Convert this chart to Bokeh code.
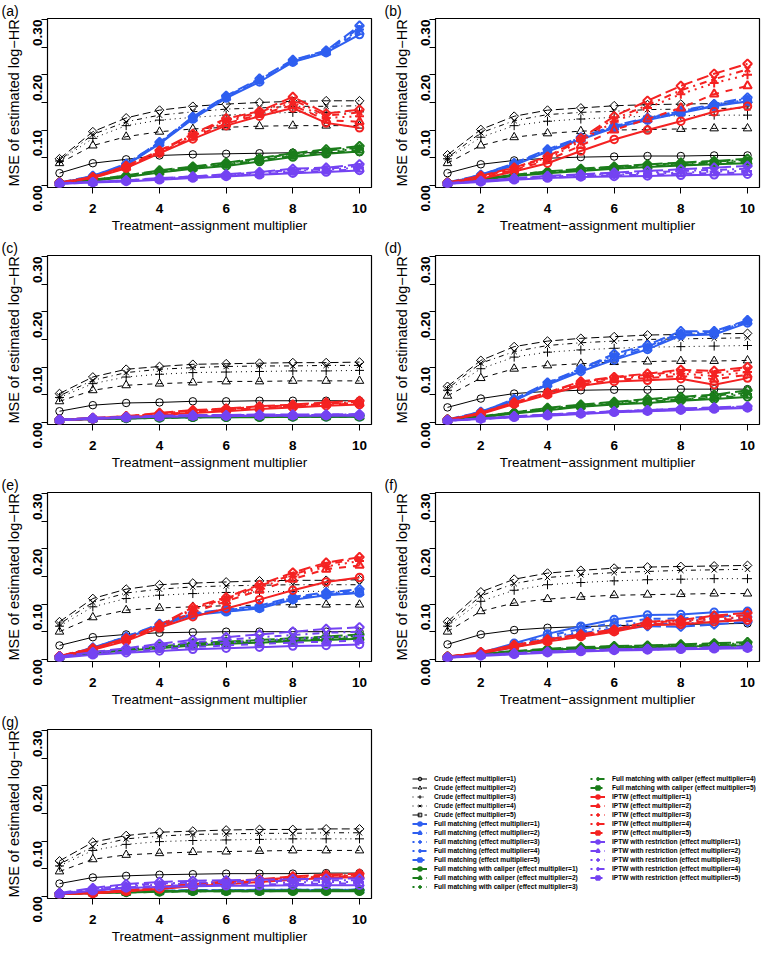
import numpy as np
from bokeh.plotting import figure
from bokeh.layouts import column, row
from bokeh.models import (Range1d, FixedTicker, PrintfTickFormatter,
                          Legend, LegendItem)
from bokeh.embed import file_html
from bokeh.resources import INLINE

# ---------------- data ----------------
X = [1, 2, 3, 4, 5, 6, 7, 8, 9, 10]
X_TICKS = [2, 4, 6, 8, 10]
Y_TICKS = [0.0, 0.1, 0.2, 0.3]
Y_MINOR = [0.05, 0.15, 0.25]
METHODS = ["Crude", "Full matching", "Full matching with caliper", "IPTW",
           "IPTW with restriction"]
MULTS = [1, 2, 3, 4, 5]
PANEL_LABELS = ["(a)", "(b)", "(c)", "(d)", "(e)", "(f)", "(g)"]

A_CRUDE = [[0.022, 0.040, 0.047, 0.054, 0.056, 0.057, 0.058, 0.059, 0.059, 0.060],
           [0.040, 0.072, 0.088, 0.097, 0.102, 0.105, 0.107, 0.108, 0.108, 0.108],
           [0.044, 0.085, 0.108, 0.118, 0.123, 0.127, 0.130, 0.132, 0.132, 0.133],
           [0.045, 0.092, 0.115, 0.127, 0.133, 0.138, 0.140, 0.143, 0.143, 0.144],
           [0.048, 0.097, 0.122, 0.136, 0.143, 0.147, 0.150, 0.152, 0.153, 0.153]]
A_FM = [[0.004, 0.015, 0.036, 0.075, 0.120, 0.158, 0.187, 0.223, 0.240, 0.273],
        [0.004, 0.016, 0.037, 0.076, 0.121, 0.159, 0.189, 0.224, 0.241, 0.278],
        [0.004, 0.016, 0.038, 0.077, 0.122, 0.160, 0.190, 0.225, 0.242, 0.282],
        [0.004, 0.017, 0.038, 0.078, 0.123, 0.161, 0.191, 0.226, 0.243, 0.285],
        [0.005, 0.017, 0.039, 0.078, 0.124, 0.162, 0.193, 0.227, 0.244, 0.289]]
A_FMC = [[0.004, 0.008, 0.015, 0.023, 0.030, 0.035, 0.043, 0.051, 0.057, 0.061],
         [0.004, 0.009, 0.016, 0.024, 0.031, 0.037, 0.045, 0.053, 0.059, 0.064],
         [0.004, 0.009, 0.016, 0.025, 0.032, 0.038, 0.046, 0.055, 0.061, 0.066],
         [0.004, 0.010, 0.017, 0.026, 0.033, 0.040, 0.048, 0.057, 0.063, 0.068],
         [0.005, 0.010, 0.018, 0.027, 0.034, 0.041, 0.049, 0.058, 0.065, 0.071]]
A_IPTW = [[0.004, 0.013, 0.031, 0.058, 0.084, 0.108, 0.125, 0.140, 0.113, 0.104],
          [0.004, 0.014, 0.032, 0.060, 0.087, 0.112, 0.128, 0.145, 0.118, 0.115],
          [0.004, 0.014, 0.033, 0.061, 0.089, 0.115, 0.130, 0.150, 0.122, 0.125],
          [0.004, 0.015, 0.034, 0.062, 0.091, 0.118, 0.132, 0.155, 0.126, 0.132],
          [0.005, 0.015, 0.035, 0.063, 0.093, 0.121, 0.134, 0.160, 0.130, 0.137]]
A_IPTWR = [[0.003, 0.005, 0.007, 0.010, 0.013, 0.016, 0.019, 0.022, 0.024, 0.027],
           [0.003, 0.005, 0.008, 0.011, 0.014, 0.017, 0.020, 0.024, 0.026, 0.029],
           [0.003, 0.006, 0.008, 0.011, 0.015, 0.018, 0.021, 0.026, 0.028, 0.032],
           [0.003, 0.006, 0.009, 0.012, 0.016, 0.019, 0.023, 0.028, 0.030, 0.035],
           [0.004, 0.006, 0.009, 0.013, 0.016, 0.020, 0.024, 0.030, 0.032, 0.038]]

B_CRUDE = [[0.022, 0.038, 0.045, 0.049, 0.051, 0.052, 0.053, 0.053, 0.054, 0.054],
           [0.040, 0.072, 0.087, 0.094, 0.098, 0.100, 0.101, 0.102, 0.103, 0.103],
           [0.048, 0.087, 0.108, 0.116, 0.120, 0.123, 0.125, 0.126, 0.127, 0.127],
           [0.050, 0.095, 0.117, 0.128, 0.132, 0.134, 0.137, 0.138, 0.139, 0.140],
           [0.055, 0.101, 0.125, 0.136, 0.140, 0.144, 0.146, 0.147, 0.148, 0.150]]
B_FM = [[0.004, 0.017, 0.036, 0.061, 0.083, 0.104, 0.118, 0.131, 0.143, 0.152],
        [0.004, 0.018, 0.037, 0.062, 0.084, 0.105, 0.119, 0.132, 0.144, 0.154],
        [0.004, 0.018, 0.038, 0.063, 0.085, 0.106, 0.120, 0.133, 0.145, 0.155],
        [0.004, 0.019, 0.039, 0.064, 0.086, 0.107, 0.121, 0.134, 0.146, 0.157],
        [0.005, 0.019, 0.040, 0.065, 0.087, 0.108, 0.122, 0.135, 0.147, 0.159]]
B_FMC = [[0.004, 0.010, 0.017, 0.022, 0.026, 0.030, 0.033, 0.036, 0.038, 0.040],
         [0.004, 0.011, 0.018, 0.023, 0.027, 0.031, 0.034, 0.037, 0.040, 0.042],
         [0.004, 0.011, 0.018, 0.024, 0.028, 0.032, 0.035, 0.039, 0.041, 0.044],
         [0.004, 0.012, 0.019, 0.025, 0.029, 0.033, 0.037, 0.040, 0.043, 0.046],
         [0.005, 0.012, 0.019, 0.025, 0.030, 0.034, 0.038, 0.041, 0.044, 0.048]]
B_IPTW = [[0.004, 0.012, 0.025, 0.040, 0.062, 0.083, 0.100, 0.116, 0.133, 0.143],
          [0.004, 0.014, 0.028, 0.045, 0.072, 0.100, 0.120, 0.140, 0.165, 0.180],
          [0.004, 0.015, 0.030, 0.048, 0.080, 0.115, 0.140, 0.165, 0.185, 0.200],
          [0.004, 0.016, 0.031, 0.050, 0.083, 0.120, 0.145, 0.172, 0.192, 0.210],
          [0.005, 0.017, 0.032, 0.052, 0.085, 0.125, 0.153, 0.180, 0.202, 0.220]]
B_IPTWR = [[0.003, 0.006, 0.010, 0.013, 0.015, 0.016, 0.017, 0.018, 0.019, 0.020],
           [0.003, 0.007, 0.011, 0.014, 0.016, 0.018, 0.019, 0.021, 0.022, 0.023],
           [0.003, 0.007, 0.011, 0.015, 0.017, 0.019, 0.021, 0.023, 0.025, 0.026],
           [0.003, 0.008, 0.012, 0.016, 0.018, 0.021, 0.023, 0.026, 0.028, 0.030],
           [0.004, 0.008, 0.013, 0.017, 0.020, 0.023, 0.026, 0.029, 0.032, 0.035]]

C_CRUDE = [[0.020, 0.031, 0.035, 0.036, 0.038, 0.038, 0.039, 0.039, 0.039, 0.039],
           [0.038, 0.058, 0.067, 0.070, 0.072, 0.074, 0.074, 0.075, 0.075, 0.075],
           [0.045, 0.070, 0.082, 0.087, 0.090, 0.091, 0.092, 0.093, 0.093, 0.094],
           [0.048, 0.076, 0.090, 0.096, 0.099, 0.101, 0.102, 0.102, 0.103, 0.103],
           [0.052, 0.082, 0.096, 0.101, 0.105, 0.106, 0.107, 0.108, 0.108, 0.109]]
C_FM = [[0.004, 0.006, 0.007, 0.008, 0.009, 0.009, 0.010, 0.010, 0.010, 0.010],
        [0.004, 0.006, 0.008, 0.009, 0.010, 0.010, 0.010, 0.011, 0.011, 0.011],
        [0.004, 0.006, 0.008, 0.009, 0.010, 0.010, 0.011, 0.011, 0.011, 0.011],
        [0.004, 0.007, 0.008, 0.009, 0.010, 0.011, 0.011, 0.011, 0.012, 0.012],
        [0.005, 0.007, 0.009, 0.010, 0.011, 0.011, 0.012, 0.012, 0.013, 0.013]]
C_FMC = [[0.004, 0.006, 0.007, 0.008, 0.009, 0.009, 0.009, 0.010, 0.010, 0.010],
         [0.004, 0.006, 0.007, 0.008, 0.009, 0.010, 0.010, 0.010, 0.010, 0.010],
         [0.004, 0.006, 0.008, 0.009, 0.009, 0.010, 0.010, 0.010, 0.011, 0.011],
         [0.004, 0.006, 0.008, 0.009, 0.010, 0.010, 0.010, 0.011, 0.011, 0.011],
         [0.005, 0.007, 0.008, 0.009, 0.010, 0.010, 0.011, 0.011, 0.011, 0.012]]
C_IPTW = [[0.004, 0.006, 0.009, 0.013, 0.017, 0.020, 0.024, 0.027, 0.030, 0.032],
          [0.004, 0.007, 0.010, 0.014, 0.019, 0.022, 0.026, 0.029, 0.032, 0.034],
          [0.004, 0.007, 0.010, 0.015, 0.020, 0.023, 0.027, 0.030, 0.033, 0.035],
          [0.004, 0.007, 0.011, 0.016, 0.021, 0.024, 0.028, 0.031, 0.034, 0.037],
          [0.005, 0.008, 0.011, 0.017, 0.022, 0.025, 0.029, 0.032, 0.036, 0.039]]
C_IPTWR = [[0.004, 0.006, 0.008, 0.010, 0.011, 0.011, 0.012, 0.012, 0.012, 0.012],
           [0.004, 0.007, 0.009, 0.010, 0.011, 0.012, 0.012, 0.012, 0.013, 0.013],
           [0.004, 0.007, 0.009, 0.011, 0.012, 0.012, 0.013, 0.013, 0.013, 0.013],
           [0.004, 0.007, 0.009, 0.011, 0.012, 0.013, 0.013, 0.013, 0.014, 0.014],
           [0.005, 0.008, 0.010, 0.012, 0.013, 0.013, 0.014, 0.014, 0.014, 0.015]]

D_CRUDE = [[0.027, 0.043, 0.052, 0.056, 0.058, 0.059, 0.059, 0.060, 0.060, 0.060],
           [0.048, 0.080, 0.097, 0.103, 0.106, 0.109, 0.110, 0.111, 0.111, 0.112],
           [0.058, 0.097, 0.118, 0.127, 0.131, 0.134, 0.136, 0.137, 0.138, 0.139],
           [0.061, 0.107, 0.128, 0.139, 0.144, 0.147, 0.150, 0.151, 0.152, 0.153],
           [0.065, 0.112, 0.137, 0.147, 0.152, 0.155, 0.158, 0.159, 0.160, 0.161]]
D_FM = [[0.004, 0.017, 0.039, 0.068, 0.092, 0.113, 0.132, 0.157, 0.159, 0.180],
        [0.004, 0.018, 0.040, 0.069, 0.094, 0.116, 0.134, 0.159, 0.161, 0.182],
        [0.004, 0.018, 0.040, 0.070, 0.095, 0.118, 0.135, 0.160, 0.162, 0.183],
        [0.004, 0.019, 0.041, 0.071, 0.096, 0.121, 0.137, 0.162, 0.163, 0.184],
        [0.005, 0.019, 0.042, 0.072, 0.097, 0.124, 0.140, 0.165, 0.165, 0.185]]
D_FMC = [[0.004, 0.009, 0.016, 0.022, 0.028, 0.032, 0.035, 0.039, 0.042, 0.046],
         [0.004, 0.009, 0.017, 0.023, 0.029, 0.033, 0.037, 0.041, 0.044, 0.049],
         [0.004, 0.010, 0.017, 0.024, 0.030, 0.034, 0.038, 0.042, 0.045, 0.051],
         [0.004, 0.010, 0.018, 0.025, 0.031, 0.036, 0.040, 0.044, 0.048, 0.054],
         [0.005, 0.011, 0.018, 0.026, 0.032, 0.037, 0.042, 0.046, 0.050, 0.058]]
D_IPTW = [[0.004, 0.015, 0.033, 0.050, 0.066, 0.074, 0.076, 0.079, 0.068, 0.080],
          [0.004, 0.016, 0.034, 0.051, 0.069, 0.077, 0.080, 0.084, 0.078, 0.086],
          [0.004, 0.016, 0.034, 0.052, 0.071, 0.079, 0.083, 0.088, 0.084, 0.091],
          [0.004, 0.017, 0.035, 0.053, 0.073, 0.081, 0.086, 0.092, 0.089, 0.096],
          [0.005, 0.017, 0.036, 0.054, 0.074, 0.082, 0.088, 0.095, 0.093, 0.100]]
D_IPTWR = [[0.003, 0.006, 0.009, 0.012, 0.015, 0.018, 0.020, 0.022, 0.024, 0.026],
           [0.003, 0.006, 0.010, 0.013, 0.016, 0.019, 0.021, 0.023, 0.025, 0.027],
           [0.003, 0.006, 0.010, 0.013, 0.016, 0.019, 0.021, 0.023, 0.025, 0.027],
           [0.003, 0.007, 0.010, 0.014, 0.017, 0.020, 0.022, 0.024, 0.026, 0.028],
           [0.004, 0.007, 0.011, 0.014, 0.017, 0.020, 0.022, 0.025, 0.027, 0.029]]

E_CRUDE = [[0.025, 0.040, 0.045, 0.048, 0.049, 0.050, 0.050, 0.050, 0.050, 0.050],
           [0.050, 0.076, 0.089, 0.093, 0.095, 0.097, 0.098, 0.099, 0.099, 0.099],
           [0.060, 0.095, 0.110, 0.116, 0.119, 0.121, 0.122, 0.123, 0.123, 0.123],
           [0.064, 0.103, 0.120, 0.127, 0.131, 0.133, 0.134, 0.135, 0.135, 0.135],
           [0.068, 0.110, 0.127, 0.135, 0.138, 0.140, 0.142, 0.143, 0.143, 0.144]]
E_FM = [[0.004, 0.019, 0.039, 0.061, 0.080, 0.086, 0.092, 0.108, 0.116, 0.120],
        [0.004, 0.020, 0.040, 0.062, 0.081, 0.087, 0.093, 0.109, 0.117, 0.121],
        [0.004, 0.020, 0.040, 0.062, 0.082, 0.088, 0.094, 0.110, 0.118, 0.122],
        [0.004, 0.021, 0.041, 0.063, 0.083, 0.089, 0.095, 0.111, 0.119, 0.124],
        [0.005, 0.021, 0.041, 0.064, 0.084, 0.090, 0.097, 0.113, 0.121, 0.127]]
E_FMC = [[0.004, 0.011, 0.016, 0.020, 0.025, 0.028, 0.030, 0.033, 0.035, 0.037],
         [0.004, 0.011, 0.016, 0.021, 0.026, 0.029, 0.031, 0.034, 0.036, 0.039],
         [0.004, 0.012, 0.017, 0.022, 0.027, 0.030, 0.032, 0.035, 0.037, 0.040],
         [0.004, 0.012, 0.017, 0.022, 0.028, 0.031, 0.033, 0.036, 0.039, 0.042],
         [0.005, 0.013, 0.018, 0.023, 0.029, 0.032, 0.035, 0.038, 0.041, 0.045]]
E_IPTW = [[0.004, 0.017, 0.033, 0.057, 0.077, 0.092, 0.108, 0.125, 0.140, 0.148],
          [0.005, 0.018, 0.035, 0.058, 0.085, 0.105, 0.125, 0.145, 0.163, 0.170],
          [0.005, 0.019, 0.036, 0.060, 0.090, 0.108, 0.130, 0.150, 0.168, 0.178],
          [0.006, 0.020, 0.037, 0.061, 0.092, 0.110, 0.133, 0.153, 0.172, 0.182],
          [0.006, 0.020, 0.038, 0.062, 0.094, 0.112, 0.135, 0.157, 0.175, 0.185]]
E_IPTWR = [[0.003, 0.008, 0.012, 0.015, 0.018, 0.020, 0.022, 0.024, 0.025, 0.027],
           [0.004, 0.009, 0.014, 0.018, 0.022, 0.025, 0.028, 0.030, 0.032, 0.034],
           [0.004, 0.010, 0.016, 0.021, 0.026, 0.030, 0.034, 0.037, 0.040, 0.042],
           [0.005, 0.012, 0.018, 0.025, 0.031, 0.035, 0.040, 0.044, 0.048, 0.050],
           [0.005, 0.013, 0.020, 0.028, 0.035, 0.040, 0.045, 0.050, 0.055, 0.058]]

F_CRUDE = [[0.027, 0.045, 0.053, 0.057, 0.059, 0.061, 0.062, 0.063, 0.064, 0.065],
           [0.050, 0.087, 0.102, 0.109, 0.113, 0.116, 0.117, 0.118, 0.119, 0.119],
           [0.060, 0.105, 0.125, 0.135, 0.139, 0.142, 0.144, 0.145, 0.146, 0.146],
           [0.063, 0.115, 0.137, 0.148, 0.153, 0.157, 0.159, 0.161, 0.162, 0.163],
           [0.068, 0.122, 0.145, 0.156, 0.161, 0.165, 0.167, 0.168, 0.169, 0.170]]
F_FM = [[0.004, 0.012, 0.029, 0.046, 0.060, 0.072, 0.080, 0.081, 0.085, 0.087],
        [0.004, 0.011, 0.026, 0.042, 0.055, 0.066, 0.073, 0.074, 0.078, 0.080],
        [0.004, 0.011, 0.024, 0.039, 0.050, 0.060, 0.068, 0.069, 0.073, 0.076],
        [0.004, 0.010, 0.023, 0.037, 0.047, 0.056, 0.064, 0.064, 0.068, 0.072],
        [0.004, 0.010, 0.022, 0.035, 0.045, 0.053, 0.060, 0.059, 0.063, 0.068]]
F_FMC = [[0.004, 0.008, 0.013, 0.017, 0.019, 0.021, 0.022, 0.023, 0.024, 0.025],
         [0.004, 0.009, 0.013, 0.017, 0.020, 0.022, 0.023, 0.024, 0.025, 0.026],
         [0.004, 0.009, 0.014, 0.018, 0.020, 0.022, 0.023, 0.025, 0.026, 0.027],
         [0.004, 0.009, 0.014, 0.018, 0.021, 0.023, 0.024, 0.026, 0.027, 0.029],
         [0.005, 0.010, 0.015, 0.019, 0.022, 0.024, 0.025, 0.027, 0.029, 0.031]]
F_IPTW = [[0.004, 0.011, 0.022, 0.032, 0.041, 0.050, 0.062, 0.063, 0.068, 0.071],
          [0.004, 0.012, 0.023, 0.033, 0.042, 0.051, 0.064, 0.065, 0.071, 0.074],
          [0.004, 0.012, 0.024, 0.034, 0.043, 0.052, 0.065, 0.067, 0.073, 0.077],
          [0.004, 0.013, 0.025, 0.035, 0.044, 0.053, 0.067, 0.069, 0.076, 0.080],
          [0.005, 0.013, 0.026, 0.036, 0.045, 0.054, 0.068, 0.071, 0.079, 0.084]]
F_IPTWR = [[0.003, 0.006, 0.009, 0.012, 0.014, 0.016, 0.017, 0.018, 0.019, 0.020],
           [0.003, 0.007, 0.010, 0.013, 0.015, 0.017, 0.018, 0.019, 0.020, 0.021],
           [0.003, 0.007, 0.010, 0.013, 0.015, 0.017, 0.018, 0.019, 0.020, 0.021],
           [0.004, 0.007, 0.011, 0.014, 0.016, 0.018, 0.019, 0.020, 0.021, 0.022],
           [0.004, 0.008, 0.011, 0.014, 0.016, 0.018, 0.019, 0.020, 0.022, 0.023]]

G_CRUDE = [[0.023, 0.034, 0.037, 0.039, 0.040, 0.041, 0.041, 0.041, 0.042, 0.042],
           [0.045, 0.067, 0.075, 0.078, 0.080, 0.081, 0.082, 0.083, 0.083, 0.083],
           [0.055, 0.083, 0.094, 0.099, 0.101, 0.102, 0.103, 0.104, 0.104, 0.104],
           [0.058, 0.090, 0.104, 0.109, 0.112, 0.113, 0.114, 0.114, 0.115, 0.115],
           [0.064, 0.098, 0.110, 0.116, 0.118, 0.120, 0.121, 0.121, 0.122, 0.122]]
G_FM = [[0.004, 0.006, 0.008, 0.009, 0.010, 0.010, 0.010, 0.011, 0.011, 0.011],
        [0.004, 0.007, 0.008, 0.009, 0.010, 0.010, 0.011, 0.011, 0.011, 0.011],
        [0.004, 0.007, 0.009, 0.010, 0.010, 0.011, 0.011, 0.011, 0.011, 0.012],
        [0.004, 0.007, 0.009, 0.010, 0.011, 0.011, 0.011, 0.012, 0.012, 0.012],
        [0.005, 0.008, 0.009, 0.010, 0.011, 0.011, 0.012, 0.012, 0.012, 0.012]]
G_FMC = [[0.004, 0.006, 0.007, 0.008, 0.009, 0.009, 0.009, 0.009, 0.009, 0.009],
         [0.004, 0.006, 0.007, 0.008, 0.009, 0.009, 0.009, 0.010, 0.010, 0.010],
         [0.004, 0.006, 0.008, 0.009, 0.009, 0.010, 0.010, 0.010, 0.010, 0.010],
         [0.004, 0.006, 0.008, 0.009, 0.010, 0.010, 0.010, 0.010, 0.010, 0.010],
         [0.005, 0.007, 0.008, 0.009, 0.010, 0.010, 0.010, 0.011, 0.011, 0.011]]
G_IPTW = [[0.004, 0.005, 0.009, 0.013, 0.018, 0.022, 0.026, 0.030, 0.033, 0.035],
          [0.004, 0.006, 0.009, 0.014, 0.019, 0.024, 0.028, 0.032, 0.035, 0.037],
          [0.004, 0.006, 0.010, 0.015, 0.020, 0.025, 0.029, 0.033, 0.036, 0.038],
          [0.004, 0.006, 0.010, 0.016, 0.021, 0.026, 0.030, 0.034, 0.037, 0.039],
          [0.005, 0.007, 0.011, 0.017, 0.022, 0.027, 0.031, 0.036, 0.039, 0.041]]
G_IPTWR = [[0.004, 0.010, 0.015, 0.017, 0.018, 0.019, 0.019, 0.020, 0.020, 0.020],
           [0.004, 0.011, 0.016, 0.019, 0.020, 0.021, 0.022, 0.022, 0.023, 0.023],
           [0.005, 0.012, 0.018, 0.021, 0.023, 0.024, 0.025, 0.025, 0.026, 0.026],
           [0.005, 0.013, 0.020, 0.023, 0.025, 0.026, 0.027, 0.028, 0.029, 0.029],
           [0.006, 0.015, 0.022, 0.026, 0.028, 0.029, 0.030, 0.031, 0.032, 0.032]]

PANELS = [
    [A_CRUDE, A_FM, A_FMC, A_IPTW, A_IPTWR],
    [B_CRUDE, B_FM, B_FMC, B_IPTW, B_IPTWR],
    [C_CRUDE, C_FM, C_FMC, C_IPTW, C_IPTWR],
    [D_CRUDE, D_FM, D_FMC, D_IPTW, D_IPTWR],
    [E_CRUDE, E_FM, E_FMC, E_IPTW, E_IPTWR],
    [F_CRUDE, F_FM, F_FMC, F_IPTW, F_IPTWR],
    [G_CRUDE, G_FM, G_FMC, G_IPTW, G_IPTWR],
]

# ---------------- styles ----------------
FONT = "Liberation Sans"
COLORS = ["#000000", "#2f5ff0", "#1b7d1b", "#f42222", "#7443f2"]
LINE_W = [1, 2, 2, 2, 2]
MARKERS = ["circle", "triangle", "cross", "x", "square"]
ANGLES = [0, 0, 0, 0, np.pi / 4]
MSIZES = [7.5, 8.5, 9, 7.5, 6.2]
DASH_THIN = ["solid", "5 5", "1 4", "1 4 5 4", "8 4"]
DASH_THICK = ["solid", "7 7", "2 5", "2 5 7 5", "12 5"]

FIG_H = 237
TOP_B, BOT_B = 18, 50
FRAME_H = FIG_H - TOP_B - BOT_B


def dash_for(mi, lw):
    return DASH_THIN[mi] if lw <= 1 else DASH_THICK[mi]


def make_panel(idx):
    left = (idx % 2 == 0)
    w = 383 if left else 379
    bl = 47 if left else 52
    br = 12 if left else 3
    p = figure(width=w, height=FIG_H, output_backend="svg", toolbar_location=None,
               x_range=Range1d(0.64, 10.36), y_range=Range1d(-0.004, 0.302),
               min_border_left=bl, min_border_right=br,
               min_border_top=TOP_B, min_border_bottom=BOT_B,
               x_axis_label="Treatment\u2212assignment multiplier",
               y_axis_label="MSE of estimated log\u2212HR",
               title=PANEL_LABELS[idx])
    p.title.align = "left"
    p.title.offset = -bl + 1
    p.title.standoff = 0
    p.title.text_font = FONT
    p.title.text_font_style = "normal"
    p.title.text_font_size = "14px"
    p.title.text_color = "black"
    p.grid.visible = False
    p.outline_line_color = "black"
    p.outline_line_width = 1.2
    p.background_fill_color = "white"
    p.border_fill_color = "white"

    xa = p.xaxis[0]
    ya = p.yaxis[0]
    xa.ticker = FixedTicker(ticks=X_TICKS)
    ya.ticker = FixedTicker(ticks=Y_TICKS, minor_ticks=Y_MINOR)
    ya.formatter = PrintfTickFormatter(format="%.2f")
    for ax in (xa, ya):
        ax.axis_line_color = None
        ax.major_tick_out = 6
        ax.major_tick_in = 0
        ax.major_tick_line_color = "black"
        ax.major_label_text_font = FONT
        ax.major_label_text_font_style = "bold"
        ax.major_label_text_font_size = "13.5px"
        ax.major_label_text_color = "black"
        ax.axis_label_text_font = FONT
        ax.axis_label_text_font_style = "normal"
        ax.axis_label_text_color = "black"
    xa.minor_tick_line_color = None
    ya.minor_tick_out = 6
    ya.minor_tick_in = 0
    ya.minor_tick_line_color = "black"
    ya.major_label_orientation = np.pi / 2
    xa.major_label_standoff = 10
    xa.axis_label_standoff = 2
    xa.axis_label_text_font_size = "13.5px"
    ya.major_label_standoff = 4
    ya.axis_label_standoff = 4
    ya.axis_label_text_font_size = "14.5px"

    series = PANELS[idx]
    for mi, method_vals in enumerate(series):
        for k, vals in enumerate(method_vals):
            lw = LINE_W[mi]
            p.line(X, vals, line_color=COLORS[mi], line_width=lw,
                   line_dash=dash_for(k, lw))
            p.scatter(X, vals, marker=MARKERS[k], size=MSIZES[k],
                      angle=ANGLES[k], line_color=COLORS[mi],
                      fill_color=None, line_width=lw)
    return p


def make_legend_fig():
    # legend-only panel: the series are drawn outside its visible x-range
    p = figure(width=379, height=FIG_H, output_backend="svg", toolbar_location=None,
               x_axis_type=None, y_axis_type=None,
               x_range=Range1d(100, 101), y_range=Range1d(0, 1),
               min_border_left=29, min_border_right=0, min_border_top=TOP_B,
               min_border_bottom=BOT_B)
    p.grid.visible = False
    p.outline_line_color = None
    p.border_fill_color = "white"
    p.background_fill_color = "white"
    items = []
    for mi, method in enumerate(METHODS):
        for k, m in enumerate(MULTS):
            lw = LINE_W[mi]
            vals = PANELS[6][mi][k]
            r1 = p.line(X, vals, line_color=COLORS[mi], line_width=lw,
                        line_dash=dash_for(k, lw))
            r2 = p.scatter(X, vals, marker=MARKERS[k], size=MSIZES[k],
                           angle=ANGLES[k], line_color=COLORS[mi],
                           fill_color=None, line_width=lw)
            items.append(LegendItem(label="%s (effect multiplier=%d)" % (method, m),
                                    renderers=[r1, r2]))
    row_h = 9
    top_gap = 45
    for its, x in ((items[:13], 0), (items[13:], 178)):
        y = FRAME_H - top_gap - row_h * len(its)
        lg = Legend(items=its, location=(x, y), orientation="vertical",
                    padding=0, margin=0, spacing=0,
                    glyph_width=15, glyph_height=row_h, label_height=row_h,
                    label_standoff=7, label_text_font=FONT,
                    label_text_font_size="6.6px", label_text_font_style="bold",
                    label_text_color="black", label_text_baseline="middle",
                    background_fill_alpha=0, border_line_color=None)
        p.add_layout(lg)
    return p


figs = [make_panel(i) for i in range(7)]
figs.append(make_legend_fig())
layout = column(row(figs[0], figs[1]), row(figs[2], figs[3]),
                row(figs[4], figs[5]), row(figs[6], figs[7]))

open("out.html", "w").write(file_html(layout, INLINE))
